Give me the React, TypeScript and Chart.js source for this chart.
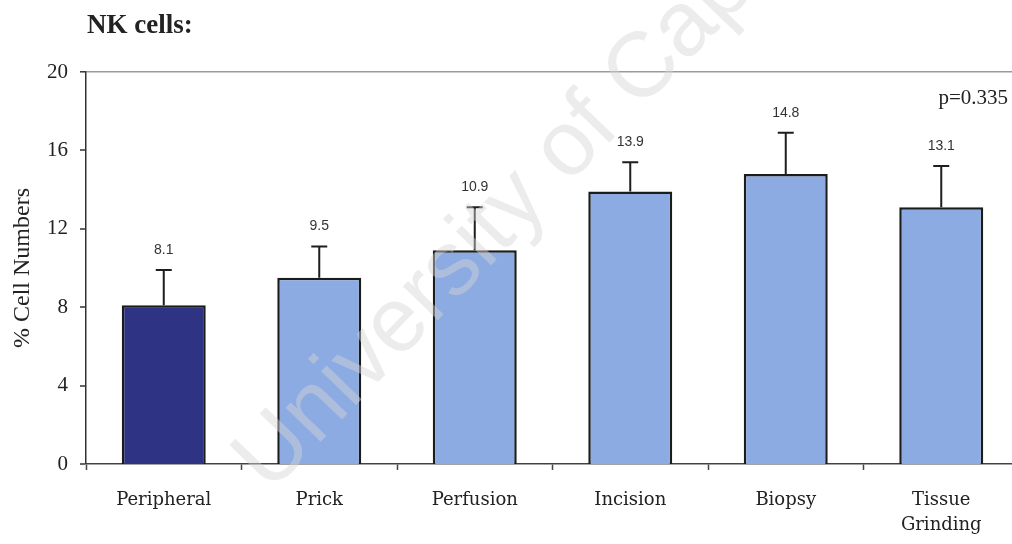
import React, { useEffect, useRef } from "react";
import { Chart, registerables } from "chart.js";

Chart.register(...registerables);

// NK cell percentages per sampling method, with the SD added on top of each bar
const categories: (string | string[])[] = [
  "Peripheral",
  "Prick",
  "Perfusion",
  "Incision",
  "Biopsy",
  ["Tissue", "Grinding"],
];
const meanValues = [8.1, 9.5, 10.9, 13.9, 14.8, 13.1];
const errorValues = [1.8, 1.6, 2.2, 1.5, 2.1, 2.1];
const barColors = ["#2e3483", "#8cabe2", "#8cabe2", "#8cabe2", "#8cabe2", "#8cabe2"];
const yTicks = [0, 4, 8, 12, 16, 20];
const chartTitle = "NK cells:";
const yAxisTitle = "% Cell Numbers";
const pValueText = "p=0.335";
const watermarkText = "University of Cape Town";

const CANVAS_W = 1030;
const CANVAS_H = 544;

const overlayPlugin = {
  id: "overlay",
  afterDatasetsDraw(chart: any) {
    const { ctx, chartArea } = chart;
    const meta = chart.getDatasetMeta(0);
    const yScale = chart.scales.y;
    ctx.save();
    // error bars (upper whisker only)
    ctx.strokeStyle = "#1e1e1e";
    ctx.lineWidth = 2;
    meta.data.forEach((bar: any, i: number) => {
      const x = bar.x;
      const yTop = yScale.getPixelForValue(meanValues[i]);
      const yCap = yScale.getPixelForValue(meanValues[i] + errorValues[i]);
      ctx.beginPath();
      ctx.moveTo(x, yTop);
      ctx.lineTo(x, yCap);
      ctx.moveTo(x - 8, yCap);
      ctx.lineTo(x + 8, yCap);
      ctx.stroke();
      // value label above the whisker
      ctx.fillStyle = "#333";
      ctx.font = "14px 'Liberation Sans', Arial, sans-serif";
      ctx.textAlign = "center";
      ctx.textBaseline = "middle";
      ctx.fillText(meanValues[i].toFixed(1), x, yCap - 20);
    });
    // p-value
    ctx.fillStyle = "#222";
    ctx.font = "21px 'Liberation Serif', 'Times New Roman', serif";
    ctx.textAlign = "right";
    ctx.textBaseline = "middle";
    ctx.fillText(pValueText, chartArea.right - 11, chartArea.top + 26);
    // heading
    ctx.font = "bold 27px 'Liberation Serif', 'Times New Roman', serif";
    ctx.textAlign = "left";
    ctx.textBaseline = "alphabetic";
    ctx.fillText(chartTitle, 87, 33);
    ctx.restore();
  },
  afterDraw(chart: any) {
    // faint diagonal watermark across the plot
    const { ctx } = chart;
    ctx.save();
    ctx.translate(270, 494);
    ctx.rotate((-46 * Math.PI) / 180);
    ctx.font = "92px 'Liberation Sans', Arial, sans-serif";
    ctx.fillStyle = "rgba(212,212,212,0.45)";
    ctx.textAlign = "left";
    ctx.textBaseline = "alphabetic";
    ctx.fillText(watermarkText, 0, 0);
    ctx.restore();
  },
};

export default function App() {
  const canvasRef = useRef<HTMLCanvasElement | null>(null);

  useEffect(() => {
    const canvas = canvasRef.current;
    if (!canvas) return;
    const chart = new Chart(canvas, {
      type: "bar",
      data: {
        labels: categories as any,
        datasets: [
          {
            data: meanValues,
            backgroundColor: barColors,
            borderColor: "#1c1c1c",
            borderWidth: 2.5,
            borderSkipped: "bottom",
            categoryPercentage: 1,
            barPercentage: 0.54,
          },
        ],
      },
      options: {
        responsive: false,
        animation: false,
        devicePixelRatio: 1,
        layout: { padding: { top: 72, right: 11, bottom: 0, left: 0 } },
        plugins: {
          legend: { display: false },
          tooltip: { enabled: false },
          title: { display: false },
        },
        scales: {
          x: {
            offset: true,
            grid: {
              offset: true,
              drawOnChartArea: false,
              drawTicks: true,
              tickLength: 6,
              tickColor: "#444",
              tickWidth: 1.5,
            },
            border: { display: true, color: "#444", width: 1.5 },
            ticks: {
              color: "#222",
              font: { family: "'DejaVu Serif', serif", size: 18, lineHeight: 1.39 },
              padding: 18,
              maxRotation: 0,
              autoSkip: false,
            },
            afterFit(scale: any) {
              scale.height = 80;
            },
          },
          y: {
            min: 0,
            max: 20,
            afterBuildTicks(scale: any) {
              scale.ticks = yTicks.map((v) => ({ value: v }));
            },
            grid: {
              drawOnChartArea: true,
              color: (c: any) => (c.tick && c.tick.value === 20 ? "#9a9a9a" : "rgba(0,0,0,0)"),
              lineWidth: (c: any) => (c.tick && c.tick.value === 20 ? 1.6 : 0),
              drawTicks: true,
              tickLength: 6,
              tickColor: "#333",
              tickWidth: 1.5,
            },
            border: { display: true, color: "#333", width: 1.5 },
            ticks: {
              color: "#222",
              font: { family: "'Liberation Serif', 'Times New Roman', serif", size: 21 },
              padding: 12,
            },
            title: {
              display: true,
              text: yAxisTitle,
              color: "#222",
              font: { family: "'Liberation Serif', 'Times New Roman', serif", size: 24, lineHeight: 1.2 },
              padding: { top: 8, bottom: 0 },
            },
            afterFit(scale: any) {
              scale.width = 86;
            },
          },
        },
      },
      plugins: [overlayPlugin],
    });
    return () => chart.destroy();
  }, []);

  return (
    <div
      style={{
        position: "absolute",
        left: 0,
        top: 0,
        width: 1012,
        height: CANVAS_H,
        overflow: "hidden",
        background: "#fff",
      }}
    >
      <canvas ref={canvasRef} width={CANVAS_W} height={CANVAS_H} style={{ display: "block" }} />
    </div>
  );
}
